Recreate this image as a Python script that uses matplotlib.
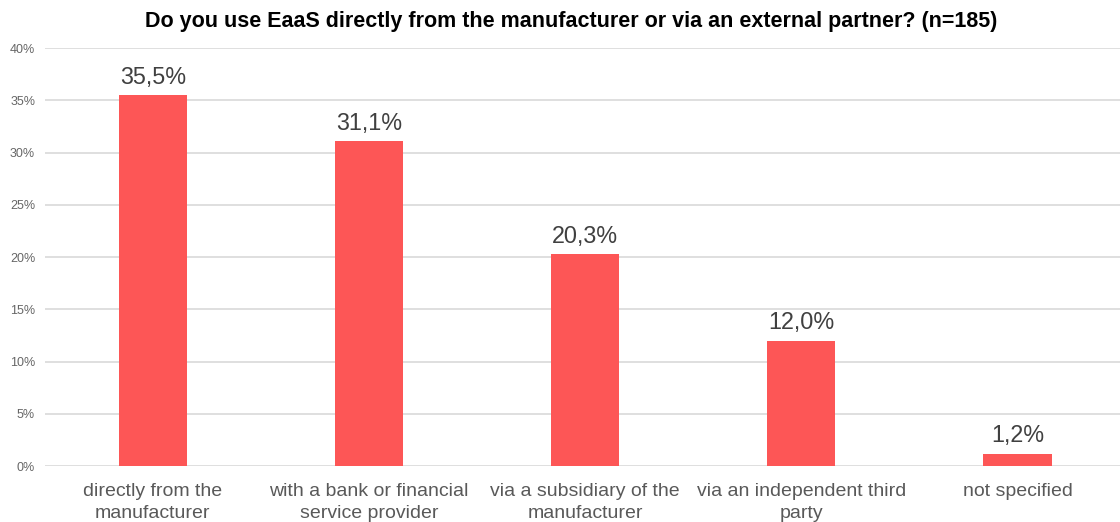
import matplotlib.pyplot as plt
from matplotlib.ticker import MultipleLocator, FuncFormatter

categories = ["directly from the\nmanufacturer", "with a bank or financial\nservice provider",
              "via a subsidiary of the\nmanufacturer", "via an independent third\nparty", "not specified"]
shares = [35.5, 31.1, 20.3, 12.0, 1.2]

plt.rcParams["font.family"] = ["Liberation Sans", "DejaVu Sans"]

fig = plt.figure(figsize=(11.2, 5.22), dpi=100)
ax = fig.add_axes([0.040, 0.107, 0.965, 0.801])

x = range(len(categories))
ax.bar(x, shares, width=0.315, color="#FD5656", zorder=3)

for i, v in enumerate(shares):
    ax.text(i, v + 0.6, f"{v:.1f}%".replace(".", ","), ha="center", va="bottom",
            fontsize=16.8, color="#404040")

ax.set_xlim(-0.5, 4.5)
ax.set_ylim(0, 40)
ax.yaxis.set_major_locator(MultipleLocator(5))
ax.yaxis.set_major_formatter(FuncFormatter(lambda v, p: f"{v:.0f}%"))
ax.grid(axis="y", color="#d9d9d9", linewidth=1.2, zorder=0)

ax.set_xticks(list(x))
ax.set_xticklabels(categories, fontsize=14, color="#595959", linespacing=1.4)
ax.tick_params(axis="x", length=0, pad=12)
ax.tick_params(axis="y", length=0, labelsize=9, labelcolor="#666666", pad=7)
for s in ax.spines.values():
    s.set_visible(False)

fig.suptitle("Do you use EaaS directly from the manufacturer or via an external partner? (n=185)",
             fontsize=15.5, fontweight="bold", y=0.978, x=0.51)

fig.savefig("out.png", dpi=100)
